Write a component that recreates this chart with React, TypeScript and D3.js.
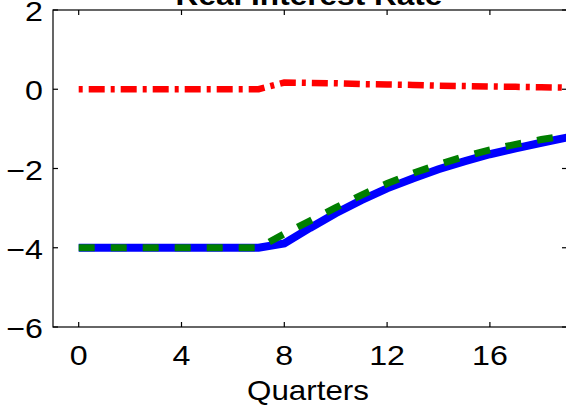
import React from "react";
import * as d3 from "d3";

const quarters = [0,1,2,3,4,5,6,7,8,9,10,11,12,13,14,15,16,17,18,19,20];
const blueSeries = [-4,-4,-4,-4,-4,-4,-4,-4,-3.89,-3.5,-3.13,-2.8,-2.5,-2.25,-2.02,-1.82,-1.64,-1.49,-1.35,-1.22,-1.1];
const greenSeries = [-4,-4,-4,-4,-4,-4,-4,-4,-3.65,-3.32,-2.99,-2.67,-2.38,-2.12,-1.9,-1.7,-1.53,-1.39,-1.27,-1.17,-1.07];
const redSeries = [0,0,0,0,0,0,0,0,0.17,0.16,0.15,0.13,0.12,0.11,0.09,0.08,0.07,0.06,0.05,0.04,0.03];
const xTicks = [0,4,8,12,16];
const yTicks = [-6,-4,-2,0,2];
const title = "Real Interest Rate";
const xLabel = "Quarters";

const W = 566, H = 407;
const L = 53, R = 567, T = 10, B = 327;
const FONT = "'Liberation Sans', Arial, Helvetica, sans-serif";
const SX = 1.15;

export default function App() {
  const x = d3.scaleLinear().domain([-1, 19]).range([L, R]);
  const y = d3.scaleLinear().domain([-6, 2]).range([B, T]);
  const line = (vals: number[]) =>
    d3.line<number>().x((_, i) => x(quarters[i])).y((v) => y(v))(vals) || "";
  const minus = (v: number) => (v < 0 ? "\u2212" + Math.abs(v) : String(v));
  return (
    <svg width={W} height={H} style={{ position: "absolute", left: 0, top: 0, background: "#fff" }}>
      <defs>
        <clipPath id="plot">
          <rect x={L} y={T} width={R - L} height={B - T} />
        </clipPath>
      </defs>
      <rect x={0} y={0} width={W} height={H} fill="#fff" />
      <g clipPath="url(#plot)" fill="none">
        <path d={line(redSeries)} stroke="#ff0000" strokeWidth={6.5} strokeDasharray="4,6,16,6" />
        <path d={line(blueSeries)} stroke="#0000ff" strokeWidth={8} />
        <path d={line(greenSeries)} stroke="#007f00" strokeWidth={7} strokeDasharray="16,16" />
      </g>
      <g stroke="#000" strokeWidth={1.2} fill="none">
        <rect x={L} y={T} width={R - L} height={B - T} />
        {xTicks.map((t) => (
          <g key={"xt" + t}>
            <line x1={x(t)} x2={x(t)} y1={B} y2={B - 5} />
            <line x1={x(t)} x2={x(t)} y1={T} y2={T + 5} />
          </g>
        ))}
        {yTicks.map((t) => (
          <g key={"yt" + t}>
            <line x1={L} x2={L + 5} y1={y(t)} y2={y(t)} />
            <line x1={R} x2={R - 5} y1={y(t)} y2={y(t)} />
          </g>
        ))}
      </g>
      <g fontFamily={FONT} fontSize={28} fill="#000">
        {xTicks.map((t) => (
          <text key={"xl" + t} transform={`translate(${x(t)},365) scale(${SX},1)`} textAnchor="middle">
            {t}
          </text>
        ))}
        {yTicks.map((t) => (
          <text key={"yl" + t} transform={`translate(43,${y(t) + 11}) scale(${SX},1)`} textAnchor="end">
            {minus(t)}
          </text>
        ))}
        <text transform={`translate(308,400) scale(1.12,1)`} textAnchor="middle">
          {xLabel}
        </text>
        <text transform={`translate(309,5) scale(1.17,1)`} textAnchor="middle" fontWeight="bold" fontSize={27}>
          {title}
        </text>
      </g>
    </svg>
  );
}
